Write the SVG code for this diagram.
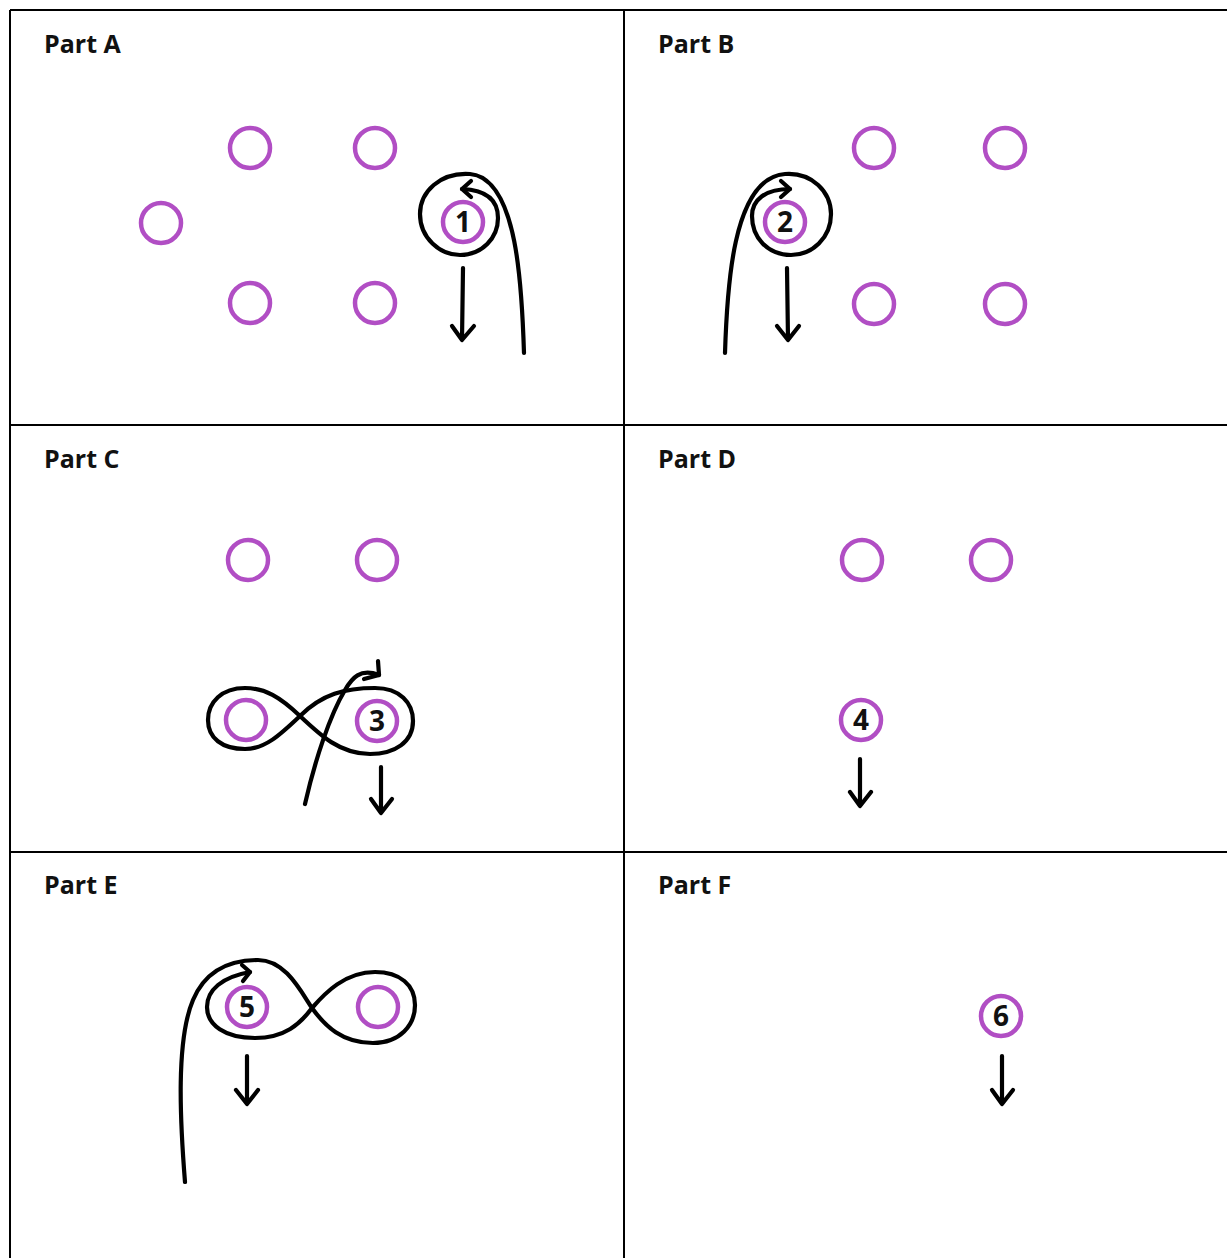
<svg xmlns="http://www.w3.org/2000/svg" width="1227" height="1258" viewBox="0 0 1227 1258">
<style>
.grid{stroke:#000;stroke-width:2;fill:none}
.lbl{font-family:"Open Sans","Liberation Sans",sans-serif;font-weight:bold;font-size:25px;fill:#111}
.c{fill:none;stroke:#B14EC4;stroke-width:4.5}
.num{font-family:"Open Sans","Liberation Sans",sans-serif;font-weight:bold;font-size:28px;fill:#111;text-anchor:middle}
.ln{fill:none;stroke:#000;stroke-width:4.2;stroke-linecap:round;stroke-linejoin:round}
</style>
<rect width="1227" height="1258" fill="#fff"/>
<g id="grid">
<path class="grid" d="M10,10 H1227 M10,10 V1258 M624,10 V1258 M10,425 H1227 M10,852 H1227"/>
</g>
<g id="partA">
<text class="lbl" x="44" y="53">Part A</text>
<circle class="c" cx="250" cy="148" r="20"/>
<circle class="c" cx="375" cy="148" r="20"/>
<circle class="c" cx="161" cy="223" r="20"/>
<circle class="c" cx="250" cy="303" r="20"/>
<circle class="c" cx="375" cy="303" r="20"/>
<circle class="c" cx="463" cy="222" r="20"/>
<text class="num" x="463" y="232">1</text>
</g>
<g id="partB">
<text class="lbl" x="658" y="53">Part B</text>
<circle class="c" cx="874" cy="148" r="20"/>
<circle class="c" cx="1005" cy="148" r="20"/>
<circle class="c" cx="874" cy="304" r="20"/>
<circle class="c" cx="1005" cy="304" r="20"/>
<circle class="c" cx="785" cy="222" r="20"/>
<text class="num" x="785" y="232">2</text>
</g>
<g id="partC">
<text class="lbl" x="44" y="468">Part C</text>
<circle class="c" cx="248" cy="560" r="20"/>
<circle class="c" cx="377" cy="560" r="20"/>
<circle class="c" cx="246" cy="720" r="20"/>
<circle class="c" cx="377" cy="721" r="20"/>
<text class="num" x="377" y="731">3</text>
</g>
<g id="partD">
<text class="lbl" x="658" y="468">Part D</text>
<circle class="c" cx="862" cy="560" r="20"/>
<circle class="c" cx="991" cy="560" r="20"/>
<circle class="c" cx="861" cy="720" r="20"/>
<text class="num" x="861" y="730">4</text>
</g>
<g id="partE">
<text class="lbl" x="44" y="894">Part E</text>
<circle class="c" cx="247" cy="1007" r="20"/>
<text class="num" x="247" y="1017">5</text>
<circle class="c" cx="378" cy="1007" r="20"/>
</g>
<g id="partF">
<text class="lbl" x="658" y="894">Part F</text>
<circle class="c" cx="1001" cy="1016" r="20"/>
<text class="num" x="1001" y="1026">6</text>
</g>
<g id="connectors">
<path class="ln" d="M524,353 C522,290 518,178 470,174 C440,172 420,192 420,214 C420,238 440,255 460,255 C482,255 498,238 498,218 C498,200 486,190 462,189"/>
<path class="ln" d="M471,181 L462,189 L471,197"/>
<path class="ln" d="M463,268 L462,340 M452,326 L462,340 L474,326"/>
<path class="ln" d="M725,353 C727,290 732,178 785,174 C812,172 831,192 831,214 C831,238 812,255 791,255 C768,255 752,238 752,216 C752,200 765,189 790,189"/>
<path class="ln" d="M781,181 L790,189 L781,197"/>
<path class="ln" d="M787,268 L788,340 M777,326 L788,340 L799,326"/>
<path class="ln" d="M300,716 C322,694 345,688 375,688 C400,688 413,703 413,721 C413,742 395,754 370,754 C340,754 320,735 300,716 C280,697 265,688 245,688 C222,688 208,702 208,720 C208,738 222,749 245,749 C265,749 280,735 300,716 Z"/>
<path class="ln" d="M305,804 C315,760 330,715 345,690 C352,678 360,668 379,675"/>
<path class="ln" d="M378,661 L379,675 L364,679"/>
<path class="ln" d="M381,767 L381,813 M371,799 L381,813 L392,799"/>
<path class="ln" d="M860,759 L860,806 M850,792 L860,806 L871,792"/>
<path class="ln" d="M185,1182 C180,1120 176,1040 193,1000 C204,974 225,960 258,960 C285,960 300,990 312,1008 C325,1026 342,1043 373,1043 C400,1043 415,1025 415,1005 C415,985 400,972 375,972 C345,972 325,993 312,1008 C300,1024 285,1038 255,1038 C225,1038 207,1025 207,1007 C207,990 222,977 250,972"/>
<path class="ln" d="M242,965 L250,972 L243,981"/>
<path class="ln" d="M247,1056 L247,1104 M236,1090 L247,1104 L258,1090"/>
<path class="ln" d="M1002,1056 L1002,1104 M992,1090 L1002,1104 L1013,1090"/>
</g>
</svg>
